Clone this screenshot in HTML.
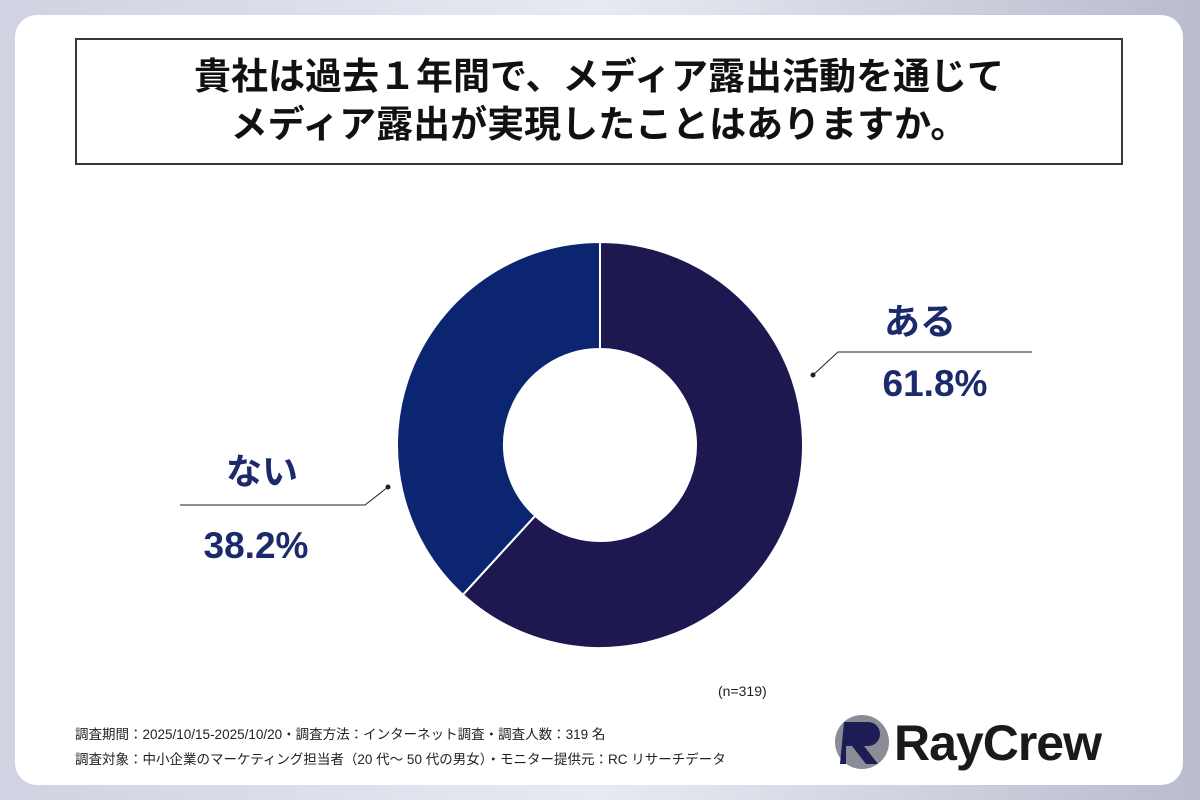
<!DOCTYPE html>
<html><head><meta charset="utf-8"><style>
body{margin:0;width:1200px;height:800px;overflow:hidden;background:linear-gradient(90deg,#cfd3e2 0%,#e8eaf2 50%,#b9bccf 100%);font-family:"Liberation Sans","Noto Sans CJK JP",sans-serif;}
#card{position:absolute;left:15px;top:15px;width:1168px;height:770px;background:#fff;border-radius:22px;}
#title{position:absolute;left:75px;top:38px;width:1048px;height:127px;border:2px solid #2f3a44;box-sizing:border-box;text-align:center;font-weight:bold;font-size:37px;line-height:48px;color:#111;padding-top:13px;}
.foot{position:absolute;left:75px;font-size:13.5px;color:#222;}
</style></head><body>
<div id="card"></div>
<div id="title">貴社は過去１年間で、メディア露出活動を通じて<br>メディア露出が実現したことはありますか。</div>
<svg id="chart" width="1200" height="800" style="position:absolute;left:0;top:0"></svg>
<div class="foot" style="left:718px;top:683px;font-size:14px">(n=319)</div>
<div class="foot" style="top:723px">調査期間：2025/10/15-2025/10/20・調査方法：インターネット調査・調査人数：319 名</div>
<div class="foot" style="top:748px">調査対象：中小企業のマーケティング担当者（20 代～ 50 代の男女）・モニター提供元：RC リサーチデータ</div>
<div style="position:absolute;left:832px;top:712px;width:300px;height:60px;">
<svg width="60" height="60" style="position:absolute;left:0;top:0"><circle cx="30" cy="30" r="27" fill="#8a8d96"/><path d="M12 10h24a12 12 0 0 1 0 24h-4l14 18h-12l-14-18h-6v18h-6z" fill="#1e1c55"/></svg>
<div style="position:absolute;left:62px;top:2px;font-size:50px;font-weight:bold;color:#1a1a1a;letter-spacing:-1px;">RayCrew</div></div>
<script>
const categories=["ある","ない"];
const values=[61.8,38.2];
const labels=["61.8%","38.2%"];
const colors=["#1d1850","#0b2570"];
const svg=document.getElementById('chart');
const NS="http://www.w3.org/2000/svg";
const cx=600,cy=445,R=203,r=96;
function pt(a,rad){return [cx+rad*Math.sin(a),cy-rad*Math.cos(a)];}
const total=values.reduce((a,b)=>a+b,0);
let start=0;
values.forEach((v,i)=>{
 const end=start+v/total*2*Math.PI;
 const large=(end-start)>Math.PI?1:0;
 const [x1,y1]=pt(start,R),[x2,y2]=pt(end,R),[x3,y3]=pt(end,r),[x4,y4]=pt(start,r);
 const p=document.createElementNS(NS,'path');
 p.setAttribute('d',`M${x1},${y1}A${R},${R} 0 ${large} 1 ${x2},${y2}L${x3},${y3}A${r},${r} 0 ${large} 0 ${x4},${y4}Z`);
 p.setAttribute('fill',colors[i]);p.setAttribute('stroke','#fff');p.setAttribute('stroke-width','2');
 
 
 svg.appendChild(p);
 start=end;
});
function txt(x,y,s,size,name){const t=document.createElementNS(NS,'text');t.setAttribute('x',x);t.setAttribute('y',y);t.setAttribute('text-anchor','middle');t.setAttribute('font-size',size);t.setAttribute('font-weight','bold');t.setAttribute('fill','#1b2a6b');t.textContent=s;


svg.appendChild(t);}
function line(d,name){const p=document.createElementNS(NS,'path');p.setAttribute('d',d);p.setAttribute('stroke','#222');p.setAttribute('fill','none');p.setAttribute('stroke-width','1');


svg.appendChild(p);}
function dot(x,y){const c=document.createElementNS(NS,'circle');c.setAttribute('cx',x);c.setAttribute('cy',y);c.setAttribute('r',2.5);c.setAttribute('fill','#222');


svg.appendChild(c);}
line('M813,375L838,352H1032','leader-yes');dot(813,375);
line('M388,487L365,505H180','leader-no');dot(388,487);
txt(920,334,categories[0],36,'label-yes');txt(935,396,labels[0],37,'value-yes');
txt(262,484,categories[1],36,'label-no');txt(256,558,labels[1],37,'value-no');
</script>
</body></html>
